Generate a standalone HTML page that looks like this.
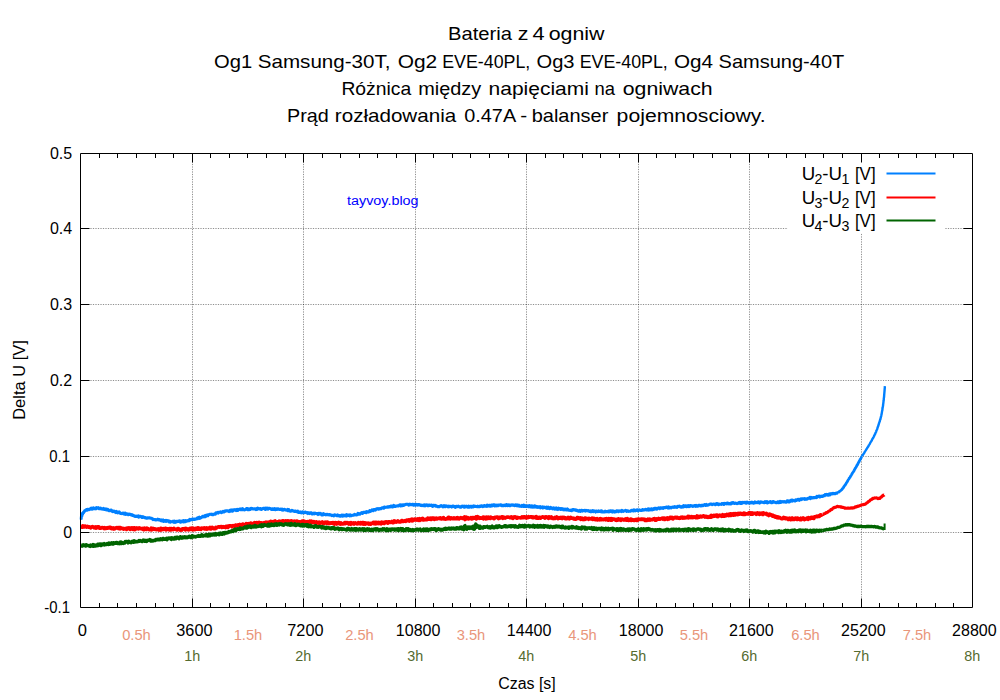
<!DOCTYPE html>
<html lang="pl"><head><meta charset="utf-8"><title>Bateria z 4 ogniw</title>
<style>html,body{margin:0;padding:0;background:#fff}svg{display:block}text{font-family:'Liberation Sans', sans-serif}</style></head><body>
<svg width="1000" height="700" viewBox="0 0 1000 700">
<rect width="1000" height="700" fill="#fff"/>
<g stroke="#000" stroke-width="0.44" stroke-dasharray="1.25 1.25" stroke-dashoffset="0.12" fill="none">
<path d="M192.5 607.5V153.5"/>
<path d="M303.5 607.5V153.5"/>
<path d="M415.5 607.5V153.5"/>
<path d="M526.5 607.5V153.5"/>
<path d="M638.5 607.5V153.5"/>
<path d="M749.5 607.5V153.5"/>
<path d="M861.5 607.5V153.5"/>
<path d="M80.5 228.5H972.5"/>
<path d="M80.5 304.5H972.5"/>
<path d="M80.5 380.5H972.5"/>
<path d="M80.5 456.5H972.5"/>
<path d="M80.5 532.5H972.5"/>
</g>
<rect x="787.5" y="158" width="157.5" height="75.5" fill="#fff"/>
<clipPath id="c"><rect x="79.5" y="153.5" width="893.0" height="454.0"/></clipPath>
<g clip-path="url(#c)" fill="none" stroke-width="2" stroke-linejoin="round" stroke-linecap="butt">
<polyline stroke="#0080ff" stroke-width="3.1" points="81.0,519.6 81.0,519.6 81.1,517.8 81.2,518.4 81.3,516.9 81.5,516.5 81.7,516.5 81.8,515.3 82.0,515.0 82.3,513.7 82.5,514.2 82.9,513.4 83.2,512.6 83.6,512.7 84.1,511.6 84.5,511.4 84.9,510.5 85.4,510.6 85.9,510.0 86.4,509.8 86.9,510.2 87.5,509.3 88.1,509.3 88.7,509.8 89.3,509.6 89.8,509.1 90.4,508.8 91.0,508.3 91.6,508.1 92.2,509.2 92.8,508.5 93.4,507.8 94.0,508.5 94.6,508.7 95.2,508.4 95.8,508.8 96.4,507.6 97.0,508.2 97.6,508.2 98.2,507.6 98.8,508.5 99.4,508.8 100.0,508.5 100.6,508.1 101.2,509.0 101.8,508.7 102.4,508.8 103.0,509.2 103.6,508.4 104.2,509.5 104.7,509.4 105.3,509.6 105.9,508.9 106.5,509.9 107.1,509.2 107.7,509.2 108.3,510.4 108.8,510.6 109.4,510.7 110.0,510.3 110.6,510.2 111.2,510.0 111.7,511.0 112.3,511.3 112.9,511.6 113.5,511.0 114.1,511.0 114.7,511.7 115.2,512.1 115.8,512.5 116.4,511.5 117.0,512.0 117.6,512.8 118.2,512.2 118.8,512.6 119.3,511.9 119.9,513.0 120.5,513.4 121.1,513.4 121.7,513.6 122.3,513.4 122.9,513.0 123.5,513.8 124.0,513.2 124.6,514.2 125.2,513.2 125.8,514.4 126.4,513.6 127.0,514.0 127.6,514.1 128.2,514.7 128.7,514.1 129.3,514.5 129.9,514.1 130.5,514.6 131.1,514.9 131.7,514.6 132.3,515.5 132.9,515.2 133.4,515.8 134.0,515.9 134.6,515.7 135.2,516.4 135.8,516.2 136.4,516.5 137.0,516.0 137.6,516.4 138.2,516.0 138.7,517.2 139.3,516.3 139.9,516.4 140.5,516.2 141.1,516.6 141.7,517.4 142.3,517.4 142.9,516.7 143.5,517.2 144.1,517.3 144.7,517.8 145.3,517.6 145.8,517.8 146.4,518.3 147.0,518.2 147.6,517.8 148.2,518.0 148.8,518.0 149.4,517.8 150.0,518.0 150.6,518.2 151.2,518.3 151.8,518.4 152.4,518.9 153.0,519.6 153.5,519.4 154.1,519.5 154.7,519.6 155.3,519.5 155.9,520.0 156.5,519.8 157.1,519.7 157.7,519.2 158.3,519.8 158.9,519.5 159.5,519.5 160.0,520.1 160.6,520.6 161.2,520.0 161.8,520.8 162.4,520.5 163.0,520.0 163.6,521.3 164.2,520.6 164.8,520.5 165.4,521.3 166.0,520.4 166.6,521.3 167.2,520.7 167.8,521.0 168.4,520.9 169.0,521.8 169.6,521.2 170.2,522.1 170.8,521.6 171.4,521.8 172.0,521.6 172.6,521.3 173.2,521.4 173.8,522.2 174.4,521.2 175.0,522.3 175.6,522.0 176.2,521.4 176.8,521.8 177.4,521.4 178.0,521.4 178.6,521.5 179.2,520.8 179.8,521.5 180.4,522.1 181.0,521.1 181.6,521.8 182.2,521.3 182.8,520.9 183.4,521.9 183.9,520.6 184.5,520.9 185.1,521.8 185.7,520.6 186.3,521.3 186.9,520.9 187.5,521.0 188.1,520.7 188.7,520.2 189.3,520.6 189.9,519.4 190.4,519.9 191.0,519.6 191.6,519.7 192.2,519.0 192.8,519.0 193.4,519.4 194.0,519.0 194.5,519.4 195.1,519.0 195.7,519.2 196.3,518.9 196.9,518.5 197.4,517.9 198.0,518.5 198.6,517.6 199.2,517.2 199.8,518.3 200.3,517.5 200.9,517.7 201.5,517.2 202.1,517.1 202.6,516.2 203.2,516.2 203.8,516.8 204.4,516.5 205.0,515.7 205.5,516.7 206.1,515.4 206.7,515.7 207.3,515.0 207.9,515.7 208.4,514.9 209.0,514.6 209.6,514.3 210.2,514.3 210.8,514.2 211.3,514.5 211.9,514.2 212.5,514.8 213.1,514.7 213.7,514.3 214.2,514.0 214.8,514.1 215.4,514.1 216.0,512.7 216.6,512.7 217.2,512.9 217.8,512.4 218.3,513.0 218.9,512.4 219.5,512.3 220.1,512.2 220.7,511.8 221.3,512.6 221.9,512.3 222.5,512.2 223.1,511.3 223.7,511.7 224.2,512.0 224.8,511.1 225.4,511.3 226.0,510.7 226.6,510.7 227.2,510.8 227.8,511.0 228.4,511.0 229.0,511.5 229.6,510.6 230.2,510.1 230.8,511.1 231.4,510.0 231.9,509.9 232.5,511.1 233.1,510.7 233.7,510.0 234.3,509.7 234.9,510.0 235.5,509.8 236.1,510.5 236.7,509.8 237.3,509.3 237.9,510.4 238.5,509.9 239.1,509.2 239.7,509.1 240.3,509.6 240.9,509.0 241.5,509.7 242.1,509.6 242.7,508.7 243.3,509.8 243.9,509.7 244.5,509.9 245.1,509.5 245.7,509.5 246.3,508.7 246.9,508.5 247.5,508.5 248.1,509.7 248.7,509.2 249.3,509.6 249.9,508.8 250.5,509.3 251.1,508.4 251.7,508.5 252.3,508.6 252.9,509.0 253.5,509.0 254.1,508.9 254.7,508.8 255.3,509.0 255.9,509.5 256.5,508.8 257.1,509.3 257.7,508.2 258.3,508.7 258.9,508.9 259.5,509.0 260.1,508.5 260.7,508.7 261.3,509.4 261.9,509.0 262.5,508.9 263.1,508.2 263.7,508.2 264.3,508.4 264.9,508.3 265.5,509.5 266.1,508.1 266.7,508.7 267.3,508.2 267.9,509.1 268.5,508.3 269.1,508.3 269.7,508.3 270.3,508.6 270.9,509.1 271.5,509.4 272.1,508.7 272.7,508.7 273.3,509.5 273.9,509.4 274.5,508.6 275.1,509.6 275.7,509.6 276.3,508.8 276.9,509.4 277.5,508.8 278.1,508.9 278.7,509.3 279.3,509.4 279.9,509.4 280.5,509.5 281.1,509.1 281.7,509.9 282.3,509.2 282.9,510.2 283.5,509.7 284.0,509.5 284.6,509.3 285.2,509.9 285.8,509.8 286.4,510.2 287.0,510.1 287.6,509.5 288.2,510.7 288.8,509.7 289.4,510.9 290.0,511.0 290.6,511.2 291.2,511.0 291.8,510.3 292.4,510.8 293.0,510.9 293.6,511.3 294.2,511.0 294.7,511.5 295.3,511.0 295.9,511.3 296.5,511.6 297.1,511.5 297.7,511.2 298.3,512.4 298.9,512.1 299.5,512.4 300.1,511.8 300.7,512.7 301.3,512.6 301.9,512.9 302.5,511.9 303.1,512.3 303.7,512.2 304.3,512.6 304.9,512.2 305.5,512.0 306.1,512.6 306.7,512.9 307.3,512.6 307.9,513.5 308.5,512.8 309.1,512.7 309.6,513.5 310.2,513.0 310.8,512.8 311.4,512.9 312.0,513.9 312.6,514.0 313.2,513.6 313.8,513.1 314.4,513.8 315.0,513.1 315.6,513.4 316.2,513.7 316.8,513.6 317.4,513.6 318.0,514.5 318.6,513.4 319.2,514.1 319.8,513.3 320.4,513.5 321.0,513.7 321.6,514.8 322.2,514.5 322.8,514.8 323.4,513.7 324.0,514.6 324.6,514.4 325.2,514.4 325.8,514.9 326.4,514.4 327.0,514.7 327.6,514.4 328.2,514.7 328.8,514.9 329.4,514.5 330.0,514.7 330.6,515.0 331.2,515.1 331.8,515.6 332.4,515.4 333.0,515.4 333.6,515.9 334.2,515.0 334.8,514.9 335.3,515.3 335.9,515.0 336.5,515.6 337.1,515.6 337.7,515.0 338.3,515.9 338.9,515.7 339.5,515.5 340.1,516.2 340.7,516.1 341.3,515.2 341.9,515.1 342.5,516.1 343.1,515.1 343.7,515.9 344.3,515.2 344.9,515.3 345.5,515.5 346.1,516.0 346.7,514.7 347.3,514.9 347.9,515.6 348.5,515.1 349.1,515.0 349.7,515.9 350.3,514.8 350.9,515.4 351.5,515.7 352.1,515.4 352.7,515.2 353.3,515.2 353.9,515.2 354.5,514.3 355.1,514.7 355.7,514.9 356.3,514.9 356.9,514.8 357.5,514.7 358.0,513.4 358.6,513.7 359.2,513.7 359.8,514.2 360.4,513.4 361.0,513.1 361.6,512.6 362.2,512.8 362.7,513.4 363.3,512.2 363.9,512.3 364.5,512.3 365.1,512.5 365.6,512.1 366.2,512.7 366.8,511.6 367.4,511.9 368.0,512.0 368.5,512.1 369.1,511.9 369.7,510.7 370.3,511.4 370.9,511.1 371.5,510.6 372.0,509.9 372.6,510.0 373.2,510.6 373.8,509.6 374.4,509.7 374.9,509.5 375.5,510.0 376.1,509.3 376.7,508.8 377.3,509.0 377.8,508.8 378.4,509.2 379.0,508.5 379.6,508.9 380.2,508.5 380.7,508.8 381.3,508.5 381.9,507.9 382.5,507.9 383.1,507.7 383.7,508.2 384.3,507.0 384.8,507.3 385.4,507.4 386.0,507.2 386.6,507.3 387.2,507.0 387.8,506.8 388.4,507.1 389.0,506.5 389.6,506.8 390.2,506.9 390.8,506.0 391.4,506.1 392.0,506.9 392.6,506.9 393.2,506.8 393.7,505.4 394.3,506.4 394.9,506.5 395.5,506.4 396.1,506.1 396.7,506.0 397.3,506.0 397.9,505.7 398.5,505.9 399.1,505.5 399.7,505.0 400.3,504.8 400.9,505.9 401.5,505.6 402.1,504.8 402.7,505.6 403.3,504.9 403.9,505.3 404.5,504.8 405.1,504.6 405.7,504.5 406.3,504.3 406.9,504.3 407.5,504.2 408.1,504.2 408.7,505.2 409.3,504.8 409.9,504.2 410.5,504.7 411.1,504.7 411.7,504.6 412.3,504.2 412.9,504.5 413.5,505.1 414.1,504.4 414.7,504.6 415.3,505.2 415.9,504.3 416.5,505.0 417.1,504.6 417.7,505.1 418.3,504.5 418.9,504.8 419.5,504.6 420.1,505.3 420.7,505.4 421.3,505.1 421.9,505.6 422.5,505.3 423.1,505.5 423.7,505.6 424.3,504.8 424.9,505.8 425.5,505.0 426.1,505.2 426.7,504.8 427.3,505.7 427.9,505.1 428.5,505.6 429.1,505.0 429.7,505.3 430.3,505.4 430.9,505.2 431.5,505.0 432.1,506.0 432.7,506.3 433.3,505.4 433.9,505.3 434.5,505.7 435.1,505.3 435.7,506.2 436.2,505.8 436.8,506.1 437.4,506.6 438.0,506.6 438.6,506.7 439.2,506.8 439.8,506.3 440.4,506.2 441.0,505.6 441.6,505.7 442.2,506.3 442.8,506.8 443.4,506.2 444.0,505.6 444.6,505.9 445.2,506.7 445.8,505.9 446.4,506.0 447.0,506.1 447.6,506.6 448.2,506.9 448.8,506.1 449.4,506.6 450.0,506.5 450.6,506.4 451.2,506.6 451.8,507.0 452.4,506.1 453.0,506.5 453.6,506.0 454.2,506.6 454.8,507.0 455.4,507.3 456.0,506.5 456.6,506.3 457.2,506.7 457.8,506.4 458.4,506.1 459.0,506.6 459.6,507.0 460.2,507.1 460.8,507.3 461.4,506.4 462.0,506.3 462.6,506.1 463.2,506.5 463.8,507.0 464.4,506.2 465.0,507.1 465.6,506.9 466.2,506.2 466.8,506.8 467.4,507.0 468.0,507.2 468.6,506.1 469.2,507.1 469.8,507.0 470.4,506.2 471.0,506.3 471.6,507.2 472.2,506.4 472.8,506.3 473.4,506.8 474.0,506.0 474.6,506.5 475.2,506.3 475.8,506.5 476.4,506.5 477.0,506.6 477.6,506.2 478.2,506.8 478.8,506.7 479.4,506.8 480.0,506.1 480.6,506.5 481.2,506.0 481.8,505.7 482.4,506.2 483.0,506.6 483.6,506.4 484.2,505.6 484.8,505.5 485.4,506.2 486.0,506.1 486.6,506.3 487.2,505.2 487.8,506.2 488.4,505.6 489.0,505.3 489.6,505.4 490.2,506.3 490.8,506.2 491.4,505.0 492.0,505.3 492.6,505.8 493.2,504.8 493.8,504.8 494.4,504.8 495.0,505.9 495.6,505.2 496.2,505.1 496.8,505.8 497.4,505.1 498.0,505.7 498.6,505.1 499.2,505.0 499.8,505.1 500.4,504.8 501.0,504.7 501.6,505.8 502.2,505.7 502.8,505.2 503.4,505.5 504.0,505.7 504.6,505.1 505.2,505.5 505.8,505.6 506.4,504.6 507.0,504.7 507.6,505.6 508.2,505.5 508.8,504.8 509.4,505.7 510.0,505.7 510.6,505.0 511.2,505.1 511.8,504.8 512.4,505.2 513.0,504.8 513.6,505.4 514.2,505.6 514.8,505.5 515.4,504.8 516.0,505.6 516.6,505.8 517.2,505.0 517.8,505.7 518.4,506.0 519.0,505.2 519.6,506.2 520.2,506.3 520.8,506.0 521.4,506.3 522.0,505.5 522.6,506.0 523.2,506.4 523.8,505.2 524.4,506.4 525.0,505.6 525.6,506.4 526.2,506.2 526.8,506.5 527.4,505.9 528.0,506.0 528.6,506.7 529.2,505.6 529.8,505.7 530.4,506.9 531.0,506.9 531.6,505.9 532.2,507.1 532.8,506.1 533.4,507.0 534.0,507.1 534.6,505.9 535.2,506.0 535.8,506.4 536.4,507.3 537.0,507.2 537.6,506.7 538.2,507.4 538.8,506.7 539.4,506.8 540.0,506.6 540.5,507.8 541.1,507.6 541.7,507.2 542.3,506.9 542.9,508.0 543.5,507.2 544.1,507.0 544.7,507.4 545.3,507.8 545.9,508.0 546.5,507.1 547.1,508.3 547.7,508.0 548.3,507.2 548.9,508.3 549.5,508.6 550.1,508.5 550.7,507.4 551.3,508.1 551.9,508.3 552.5,508.8 553.1,508.3 553.7,507.8 554.3,509.0 554.9,509.1 555.5,508.5 556.1,508.0 556.7,509.2 557.3,509.1 557.9,509.5 558.5,508.2 559.1,508.9 559.7,508.7 560.3,508.5 560.8,509.5 561.4,509.0 562.0,508.6 562.6,508.8 563.2,509.8 563.8,509.6 564.4,509.1 565.0,509.8 565.6,509.1 566.2,509.9 566.8,509.9 567.4,509.0 568.0,509.8 568.6,510.1 569.2,510.2 569.8,510.2 570.4,510.5 571.0,510.4 571.6,510.7 572.2,510.0 572.8,509.5 573.4,509.8 574.0,510.0 574.6,509.7 575.2,509.8 575.8,510.4 576.4,510.1 577.0,510.2 577.6,510.9 578.2,511.1 578.8,511.2 579.4,510.5 580.0,511.0 580.6,511.3 581.2,510.3 581.8,510.4 582.4,511.1 583.0,510.6 583.6,510.5 584.2,510.8 584.8,510.3 585.4,511.0 586.0,510.4 586.6,510.7 587.2,510.7 587.8,510.9 588.4,510.6 589.0,511.1 589.6,511.5 590.2,511.0 590.8,511.8 591.4,511.7 592.0,511.0 592.6,510.6 593.2,511.6 593.8,510.9 594.4,511.0 595.0,511.4 595.6,512.0 596.2,511.0 596.8,511.3 597.4,511.5 598.0,511.6 598.6,510.9 599.2,511.5 599.8,511.4 600.4,511.6 601.0,510.8 601.6,510.8 602.2,512.0 602.8,511.8 603.4,511.8 604.0,512.0 604.6,512.0 605.2,511.2 605.8,511.7 606.4,511.6 607.0,511.5 607.6,511.6 608.2,511.1 608.8,511.9 609.4,511.3 610.0,510.9 610.6,510.7 611.2,511.6 611.8,511.0 612.4,512.0 613.0,510.9 613.6,511.1 614.2,512.0 614.8,511.4 615.4,511.9 616.0,511.7 616.6,510.7 617.2,510.8 617.8,511.1 618.4,511.7 619.0,510.9 619.6,511.1 620.2,511.1 620.8,510.8 621.4,511.5 622.0,510.4 622.6,510.6 623.2,511.4 623.8,511.1 624.4,510.9 625.0,510.7 625.6,510.3 626.2,510.7 626.8,511.4 627.4,510.9 628.0,510.8 628.6,511.4 629.2,511.2 629.8,511.3 630.4,511.2 631.0,510.8 631.6,510.3 632.2,510.7 632.8,510.3 633.4,510.9 634.0,509.9 634.6,510.3 635.2,510.8 635.8,510.3 636.4,510.4 637.0,509.7 637.6,509.9 638.1,510.8 638.7,510.4 639.3,509.9 639.9,510.1 640.5,510.4 641.1,510.4 641.7,510.4 642.3,509.7 642.9,509.5 643.5,510.1 644.1,509.9 644.7,509.9 645.3,509.4 645.9,509.5 646.5,510.0 647.1,509.4 647.7,509.9 648.3,508.9 648.9,510.1 649.5,509.0 650.1,509.4 650.7,509.9 651.3,508.9 651.9,508.8 652.5,509.8 653.1,509.6 653.7,509.0 654.3,508.3 654.9,509.0 655.5,508.4 656.1,508.3 656.7,509.2 657.3,508.7 657.9,508.4 658.5,507.8 659.1,508.1 659.7,508.7 660.2,507.9 660.8,507.9 661.4,508.2 662.0,507.7 662.6,508.0 663.2,508.3 663.8,507.5 664.4,507.8 665.0,507.8 665.6,507.5 666.2,507.2 666.8,507.0 667.4,507.6 668.0,508.1 668.6,506.8 669.2,507.9 669.8,508.0 670.4,507.4 671.0,507.9 671.6,507.5 672.2,507.2 672.8,507.1 673.4,507.0 674.0,507.3 674.6,506.6 675.2,507.2 675.8,506.9 676.4,507.1 677.0,507.4 677.6,506.4 678.2,506.6 678.8,506.4 679.4,506.0 680.0,506.8 680.6,506.7 681.2,507.2 681.8,506.6 682.4,506.3 683.0,507.0 683.6,505.7 684.2,506.1 684.8,506.6 685.4,505.8 686.0,506.0 686.6,506.7 687.2,505.9 687.8,505.8 688.4,506.6 689.0,505.5 689.6,506.5 690.2,505.7 690.8,505.5 691.4,505.9 692.0,505.9 692.6,506.5 693.2,506.2 693.8,505.7 694.4,505.8 695.0,505.5 695.6,506.3 696.2,505.5 696.8,506.1 697.4,505.8 698.0,506.1 698.6,505.3 699.2,505.3 699.7,505.2 700.3,505.8 700.9,506.0 701.5,505.8 702.1,505.2 702.7,505.7 703.3,505.5 703.9,505.2 704.5,504.6 705.1,504.7 705.7,505.3 706.3,504.5 706.9,505.0 707.5,505.3 708.1,505.1 708.7,504.9 709.3,504.4 709.9,504.2 710.5,504.0 711.1,504.0 711.7,504.2 712.3,504.6 712.9,504.4 713.5,504.0 714.1,504.1 714.7,504.3 715.3,504.7 715.9,504.5 716.5,503.6 717.1,504.2 717.7,503.7 718.3,504.6 718.9,504.6 719.5,504.1 720.1,504.3 720.7,504.2 721.3,504.4 721.9,503.6 722.5,503.5 723.1,504.1 723.7,504.4 724.3,503.3 724.9,503.8 725.5,503.7 726.1,503.4 726.7,503.9 727.3,503.0 727.9,503.3 728.5,503.3 729.1,504.0 729.7,503.6 730.3,503.6 730.9,504.0 731.5,502.8 732.1,503.3 732.7,502.6 733.3,502.6 733.9,503.3 734.5,503.5 735.1,503.2 735.7,503.1 736.3,503.4 736.9,503.6 737.5,503.5 738.1,503.3 738.7,502.7 739.3,503.2 739.9,502.4 740.5,503.4 741.1,502.5 741.7,503.4 742.3,502.5 742.9,502.4 743.5,502.5 744.1,502.7 744.7,502.3 745.3,502.3 745.9,503.2 746.5,503.2 747.1,502.1 747.7,502.5 748.3,502.5 748.9,503.1 749.5,502.8 750.1,502.4 750.7,503.0 751.3,502.7 751.9,502.1 752.5,502.9 753.1,502.5 753.7,503.1 754.3,502.7 754.9,502.0 755.5,502.8 756.1,502.6 756.7,502.5 757.3,502.3 757.9,502.7 758.5,501.8 759.1,502.4 759.7,503.0 760.3,502.0 760.9,501.9 761.5,502.2 762.1,502.4 762.7,502.2 763.3,502.3 763.9,502.6 764.5,502.7 765.1,501.7 765.7,502.1 766.3,502.5 766.9,501.6 767.5,502.9 768.1,502.5 768.7,502.2 769.3,502.2 769.9,501.7 770.5,501.6 771.1,502.5 771.7,502.8 772.3,502.6 772.9,501.5 773.5,501.5 774.1,502.2 774.7,502.3 775.3,502.3 775.9,502.6 776.5,502.7 777.1,502.8 777.7,501.8 778.3,502.0 778.9,502.7 779.5,502.3 780.1,501.4 780.7,502.5 781.3,502.1 781.8,501.5 782.4,501.7 783.0,501.9 783.6,502.0 784.2,501.6 784.8,502.0 785.4,501.7 786.0,502.2 786.6,502.0 787.2,500.9 787.8,500.8 788.4,501.8 789.0,501.3 789.6,501.8 790.2,500.9 790.8,500.5 791.4,500.2 792.0,501.2 792.6,500.1 793.2,500.8 793.8,500.6 794.4,500.8 795.0,501.0 795.6,499.9 796.2,500.1 796.7,500.4 797.3,499.6 797.9,499.3 798.5,499.3 799.1,500.3 799.7,500.0 800.3,499.1 800.9,498.8 801.5,499.6 802.1,499.0 802.7,498.8 803.3,498.7 803.9,499.0 804.5,498.7 805.1,499.4 805.6,498.8 806.2,499.2 806.8,499.1 807.4,499.0 808.0,498.3 808.6,498.3 809.2,498.2 809.8,497.4 810.4,498.6 811.0,497.4 811.6,497.8 812.2,497.9 812.8,498.0 813.4,497.6 814.0,497.6 814.5,497.8 815.1,497.5 815.7,497.4 816.3,497.6 816.9,496.4 817.5,497.0 818.1,496.2 818.7,496.3 819.3,496.0 819.9,497.0 820.5,496.2 821.0,496.3 821.6,496.5 822.2,496.2 822.8,496.4 823.4,495.6 823.9,495.7 824.5,495.8 825.1,494.6 825.7,495.0 826.3,494.4 826.9,494.9 827.5,494.5 828.1,495.2 828.7,494.5 829.3,494.0 829.8,494.9 830.4,494.2 831.0,493.6 831.6,493.9 832.3,494.0 832.9,493.4 833.5,493.5 834.0,493.7 834.6,493.6 835.2,493.7 835.8,493.3 836.3,493.1 836.9,493.1 837.5,492.7 838.0,492.7"/><polyline stroke="#0080ff" stroke-width="2.8" points="838.0,492.7 838.5,492.4 839.0,491.8 839.5,491.5 840.0,491.1 840.4,490.8 840.8,490.4 841.3,490.1 841.7,489.7 842.1,489.3 842.5,488.7 842.9,488.2 843.2,487.9 843.6,487.3 843.9,486.7 844.3,486.2 844.6,485.6 844.9,485.5 845.3,484.9 845.6,484.2 845.9,483.9 846.2,483.3 846.5,482.7 846.9,482.4 847.2,481.9 847.5,481.2 847.8,480.7 848.1,480.0 848.5,479.5 848.8,479.1 849.1,478.5 849.4,477.9 849.7,477.7 850.0,477.3 850.3,476.7 850.6,476.2 851.0,475.7 851.3,475.1 851.6,474.6 851.9,474.0 852.2,473.5 852.5,472.9 852.9,472.4 853.2,472.0 853.5,471.6 853.8,471.0 854.1,470.6 854.4,469.9 854.7,469.2 855.0,468.8 855.3,468.3 855.6,467.9 855.9,467.3 856.2,466.9 856.5,466.2 856.8,465.8 857.1,465.0 857.4,464.8 857.7,464.4 857.9,463.8 858.2,463.3 858.5,462.5 858.8,462.3 859.1,461.6 859.4,460.9 859.7,460.3 859.9,459.8 860.2,459.5 860.5,459.0 860.8,458.5 861.1,457.9 861.4,457.4 861.7,456.7 862.0,456.4"/><polyline stroke="#0080ff" stroke-width="2.4" points="862.0,456.4 862.3,455.6 862.7,455.4 863.0,454.7 863.3,454.1 863.6,454.0 863.9,453.5 864.3,452.9 864.6,452.2 864.9,451.7 865.2,451.2 865.6,450.6 865.9,450.1 866.2,449.5 866.5,449.4 866.8,448.6 867.1,448.2 867.4,447.6 867.8,447.2 868.1,446.7 868.4,446.3 868.7,445.4 869.0,445.0 869.3,444.6 869.6,444.1 869.9,443.7 870.2,442.9 870.5,442.5 870.8,442.0 871.1,441.5 871.5,440.9 871.8,440.5 872.0,439.8 872.3,439.2 872.6,438.8 872.9,438.2 873.2,437.8 873.5,437.3 873.8,436.6 874.0,436.2 874.3,435.7 874.5,435.2 874.8,434.4 875.0,434.2 875.3,433.6 875.5,432.9 875.7,432.4 876.0,432.0 876.2,431.4 876.4,430.6 876.6,430.3 876.9,429.6 877.1,429.2 877.3,428.7 877.5,427.9 877.7,427.3 877.9,426.8 878.1,426.4 878.3,425.5 878.5,425.1 878.7,424.6 878.8,424.0 879.0,423.2 879.2,422.9 879.4,422.2 879.6,421.6 879.8,421.3 879.9,420.4 880.1,420.0 880.3,419.2 880.5,419.0 880.6,418.2 880.8,417.6 880.9,416.9 881.1,416.5 881.2,416.0 881.3,415.1 881.5,414.8 881.6,414.0 881.7,413.4 881.8,413.1 881.9,412.2 882.0,411.9 882.1,411.0 882.2,410.6 882.4,410.1 882.4,409.3 882.5,408.9 882.6,408.1 882.7,407.6 882.8,406.9 882.9,406.6 883.0,405.7 883.1,405.2 883.1,404.5 883.2,404.2 883.3,403.3 883.4,402.8 883.4,402.3 883.5,401.6 883.6,401.1 883.7,400.4 883.7,400.1 883.8,399.2 883.8,398.5 883.9,397.9 884.0,397.5 884.0,396.9 884.1,396.4 884.1,395.9 884.2,395.1 884.2,394.7 884.3,393.9 884.3,393.3 884.4,392.6 884.4,392.3 884.5,391.5 884.5,391.0 884.6,390.3 884.6,389.9 884.7,389.0 884.7,388.6 884.8,388.1 884.8,387.2 884.8,386.9 884.9,386.2"/>
<polyline stroke="#ff0000" stroke-width="3.6" points="81.0,526.2 81.6,526.3 82.2,527.2 82.8,525.9 83.4,526.9 84.0,527.1 84.6,526.2 85.2,526.0 85.8,526.4 86.4,527.1 87.0,527.0 87.6,526.3 88.2,526.8 88.8,527.2 89.4,526.8 90.0,527.2 90.6,527.9 91.2,527.4 91.8,526.9 92.4,526.6 93.0,526.9 93.6,527.2 94.2,527.9 94.8,527.7 95.4,526.9 96.0,528.1 96.6,527.3 97.2,527.7 97.8,526.7 98.4,526.7 99.0,526.9 99.6,528.2 100.2,527.9 100.8,528.2 101.4,527.9 102.0,527.5 102.6,527.7 103.2,527.9 103.8,528.4 104.4,527.6 105.0,528.5 105.6,528.0 106.2,528.4 106.8,527.9 107.4,528.2 108.0,527.6 108.6,528.0 109.2,527.5 109.8,527.3 110.4,527.2 111.0,528.4 111.6,528.0 112.2,528.8 112.8,528.7 113.4,527.9 114.0,529.0 114.6,528.3 115.2,528.7 115.8,528.0 116.4,527.7 117.0,527.6 117.6,527.7 118.2,528.5 118.8,527.6 119.4,527.5 120.0,528.9 120.6,527.6 121.2,528.3 121.8,528.4 122.4,528.6 123.0,528.4 123.6,529.2 124.2,528.9 124.8,528.6 125.4,528.7 126.0,528.5 126.6,529.4 127.2,528.0 127.8,528.9 128.4,528.7 129.0,527.8 129.6,528.2 130.2,529.4 130.8,529.1 131.4,527.8 132.0,528.3 132.6,527.8 133.2,529.3 133.8,528.0 134.4,527.9 135.0,529.6 135.6,528.6 136.2,528.4 136.8,527.9 137.4,528.6 138.0,528.5 138.6,528.8 139.2,527.9 139.8,528.2 140.4,528.3 141.0,528.7 141.6,528.5 142.2,529.1 142.8,528.5 143.4,529.6 144.0,529.7 144.6,528.1 145.2,528.4 145.8,529.0 146.4,529.4 147.0,528.2 147.6,528.4 148.2,528.9 148.8,529.3 149.4,529.7 150.0,529.7 150.6,529.5 151.2,528.2 151.8,529.9 152.4,529.2 153.0,528.3 153.6,528.6 154.2,529.3 154.8,528.9 155.4,529.0 156.0,529.6 156.6,529.7 157.2,529.2 157.8,529.6 158.4,528.9 159.0,530.0 159.6,529.3 160.2,530.0 160.8,528.3 161.4,529.8 162.0,529.3 162.6,529.5 163.2,528.6 163.8,529.3 164.4,528.8 165.0,528.5 165.6,528.3 166.2,529.9 166.8,529.5 167.4,528.7 168.0,528.8 168.6,529.1 169.2,529.8 169.8,528.5 170.4,530.0 171.0,530.0 171.6,528.7 172.2,529.5 172.8,528.9 173.4,529.5 174.0,528.4 174.6,529.1 175.2,529.3 175.8,529.4 176.4,529.5 177.0,529.9 177.6,528.7 178.2,528.5 178.8,529.0 179.4,529.3 180.0,530.0 180.6,529.5 181.2,529.6 181.8,530.0 182.4,528.7 183.0,528.7 183.6,529.0 184.2,528.7 184.8,529.4 185.4,529.9 186.0,528.4 186.6,529.1 187.2,529.4 187.8,529.0 188.4,529.8 189.0,529.4 189.6,529.7 190.2,528.3 190.8,528.4 191.4,528.2 192.0,529.6 192.6,529.8 193.2,528.1 193.7,529.4 194.3,529.3 194.9,529.6 195.5,528.5 196.1,529.2 196.7,528.4 197.3,528.0 197.9,529.2 198.5,527.9 199.1,529.1 199.7,528.3 200.3,528.7 200.9,529.4 201.5,528.2 202.1,528.5 202.7,528.3 203.3,528.0 203.9,528.5 204.5,527.9 205.1,529.0 205.7,528.6 206.3,528.0 206.9,529.2 207.5,528.1 208.1,528.6 208.7,528.7 209.3,527.8 209.9,527.3 210.5,528.9 211.1,529.0 211.7,527.5 212.3,527.4 212.9,527.9 213.5,528.1 214.1,528.8 214.7,528.7 215.3,528.7 215.9,527.3 216.5,527.9 217.1,527.6 217.7,527.1 218.3,526.8 218.9,526.9 219.5,527.2 220.1,526.7 220.7,526.7 221.3,526.5 221.9,527.5 222.5,527.2 223.1,526.7 223.7,527.1 224.3,526.9 224.9,527.2 225.5,527.6 226.1,526.5 226.7,527.0 227.3,526.2 227.9,527.4 228.5,526.8 229.1,525.9 229.7,526.0 230.3,525.8 230.8,525.7 231.4,525.9 232.0,526.8 232.6,526.0 233.2,525.6 233.8,525.8 234.4,525.5 235.0,526.3 235.6,525.0 236.2,525.3 236.8,525.3 237.4,525.0 238.0,525.9 238.6,524.8 239.2,525.0 239.8,524.4 240.4,525.6 241.0,524.8 241.6,525.3 242.2,524.4 242.8,524.0 243.4,524.5 244.0,525.2 244.5,525.2 245.1,524.3 245.7,525.1 246.3,523.6 246.9,524.4 247.5,523.8 248.1,524.1 248.7,523.6 249.3,524.8 249.9,523.7 250.5,524.7 251.1,523.2 251.7,523.7 252.3,523.7 252.9,524.1 253.5,523.3 254.1,523.6 254.7,522.7 255.3,523.1 255.9,523.8 256.5,522.6 257.1,523.2 257.7,522.7 258.3,522.6 258.9,522.4 259.5,523.6 260.1,523.3 260.7,522.7 261.3,522.7 261.9,523.2 262.5,523.0 263.0,523.5 263.6,523.4 264.2,522.6 264.8,522.8 265.4,522.6 266.0,522.1 266.6,522.3 267.2,522.7 267.8,522.4 268.4,522.5 269.0,522.1 269.6,522.9 270.2,522.6 270.8,521.4 271.4,522.5 272.0,522.7 272.6,522.5 273.2,521.6 273.8,521.6 274.4,521.3 275.0,520.9 275.6,521.7 276.2,522.3 276.8,522.1 277.4,521.9 278.0,522.2 278.6,521.9 279.2,521.1 279.8,522.1 280.4,521.4 281.0,522.3 281.6,521.3 282.2,520.9 282.8,522.0 283.4,520.9 284.0,522.3 284.6,521.4 285.2,522.1 285.8,520.8 286.4,521.7 287.0,521.9 287.6,520.9 288.2,521.8 288.8,521.0 289.4,521.2 290.0,521.4 290.6,521.8 291.2,520.9 291.8,521.0 292.4,522.1 293.0,522.0 293.6,521.5 294.2,521.2 294.8,521.9 295.4,521.5 296.0,521.3 296.6,522.3 297.2,521.1 297.8,522.1 298.4,521.8 299.0,521.9 299.6,521.9 300.2,522.0 300.8,522.3 301.4,522.4 302.0,521.2 302.6,521.0 303.2,522.4 303.8,521.1 304.4,521.2 305.0,522.3 305.6,522.6 306.2,522.4 306.8,521.8 307.4,521.6 308.0,522.7 308.6,522.3 309.2,522.2 309.8,521.1 310.4,521.5 311.0,521.2 311.6,522.8 312.2,521.7 312.8,521.6 313.4,522.4 314.0,521.7 314.6,522.4 315.2,523.1 315.8,523.0 316.4,521.9 317.0,523.2 317.6,522.3 318.2,522.6 318.8,522.2 319.4,523.5 320.0,522.3 320.6,523.1 321.2,522.9 321.8,523.0 322.4,522.0 323.0,522.8 323.6,523.7 324.2,522.9 324.8,522.3 325.4,522.1 326.0,522.6 326.6,523.4 327.2,522.1 327.8,522.2 328.4,523.3 329.0,523.7 329.6,523.0 330.2,523.3 330.8,522.7 331.4,522.8 332.0,523.2 332.6,522.7 333.2,523.2 333.8,522.6 334.4,524.1 335.0,523.6 335.6,522.6 336.2,522.8 336.8,524.0 337.4,523.1 338.0,523.0 338.6,522.5 339.2,523.7 339.8,523.5 340.4,524.0 341.0,522.8 341.6,523.9 342.2,524.0 342.8,524.0 343.4,523.8 344.0,523.3 344.6,522.6 345.2,523.7 345.8,522.5 346.4,522.7 347.0,523.2 347.6,522.7 348.2,523.3 348.8,524.0 349.4,522.8 350.0,523.9 350.6,524.3 351.2,522.6 351.8,523.3 352.4,523.8 353.0,523.8 353.6,523.0 354.2,524.0 354.8,523.2 355.4,522.9 356.0,523.4 356.6,523.6 357.2,524.0 357.8,523.7 358.4,522.6 359.0,523.5 359.6,523.1 360.2,523.8 360.8,522.6 361.4,523.7 362.0,523.9 362.6,522.6 363.2,522.5 363.8,524.1 364.4,524.1 365.0,522.8 365.6,524.1 366.2,523.2 366.8,523.4 367.4,523.3 368.0,523.0 368.6,524.0 369.2,523.5 369.8,524.1 370.4,523.5 371.0,524.0 371.6,523.3 372.2,523.2 372.8,523.3 373.4,522.3 374.0,523.7 374.6,522.5 375.2,523.9 375.8,522.3 376.4,523.5 377.0,523.6 377.6,523.2 378.2,522.3 378.8,523.6 379.4,522.7 380.0,522.6 380.6,523.3 381.2,523.8 381.8,522.2 382.4,522.8 383.0,523.2 383.6,522.4 384.2,523.5 384.8,522.9 385.4,521.9 385.9,522.0 386.5,521.9 387.1,522.4 387.7,523.2 388.3,521.7 388.9,521.7 389.5,521.8 390.1,522.4 390.7,522.0 391.3,522.0 391.9,521.4 392.5,522.6 393.1,521.9 393.7,522.5 394.3,520.9 394.9,521.6 395.5,521.4 396.1,522.2 396.7,521.9 397.3,521.5 397.9,520.8 398.5,521.7 399.1,522.0 399.7,521.7 400.3,522.0 400.9,521.3 401.5,520.7 402.1,520.5 402.7,521.5 403.3,521.5 403.9,521.1 404.5,521.3 405.1,520.7 405.7,521.3 406.3,521.0 406.9,520.1 407.5,520.6 408.1,520.7 408.6,519.8 409.2,521.1 409.8,520.8 410.4,519.6 411.0,519.6 411.6,519.2 412.2,520.8 412.8,519.4 413.4,520.5 414.0,519.9 414.6,519.0 415.2,519.2 415.8,519.3 416.4,520.1 417.0,519.4 417.6,518.9 418.2,520.3 418.8,519.5 419.4,518.7 420.0,520.3 420.6,519.7 421.2,519.2 421.8,518.6 422.4,519.6 423.0,518.5 423.6,520.0 424.2,519.6 424.8,519.5 425.4,519.6 426.0,519.7 426.6,518.9 427.2,519.5 427.8,518.2 428.4,519.3 429.0,519.3 429.6,518.3 430.2,518.1 430.8,519.5 431.4,519.4 432.0,518.0 432.6,518.8 433.2,518.1 433.8,518.1 434.4,519.4 435.0,518.9 435.6,519.0 436.2,518.1 436.8,519.0 437.4,518.8 438.0,518.2 438.6,518.4 439.2,518.0 439.8,518.6 440.4,517.8 441.0,518.3 441.6,519.0 442.2,518.6 442.8,518.5 443.4,517.6 444.0,518.9 444.6,518.5 445.2,519.1 445.8,519.0 446.4,519.0 447.0,518.3 447.6,518.7 448.2,517.5 448.8,517.3 449.4,518.7 450.0,518.4 450.6,518.9 451.2,517.8 451.8,518.1 452.4,518.6 453.0,518.3 453.6,518.7 454.2,517.9 454.8,518.7 455.4,518.7 456.0,518.7 456.6,517.8 457.2,518.7 457.8,517.7 458.4,518.2 459.0,518.9 459.6,518.3 460.2,518.2 460.8,517.7 461.4,518.0 462.0,518.0 462.6,518.5 463.2,518.2 463.8,517.4 464.4,517.0 465.0,519.6 465.6,518.4 466.2,517.2 466.8,517.8 467.4,518.5 468.0,517.7 468.6,518.9 469.2,518.3 469.8,518.5 470.4,518.5 471.0,517.6 471.6,519.0 472.2,518.8 472.8,517.5 473.4,518.4 474.0,518.3 474.6,517.5 475.2,517.6 475.8,517.0 476.4,519.0 477.0,517.8 477.6,516.7 478.2,517.3 478.8,517.2 479.4,518.3 480.0,518.1 480.6,517.8 481.2,518.1 481.8,518.2 482.4,517.5 483.0,517.2 483.6,518.8 484.2,517.4 484.8,517.4 485.4,518.3 486.0,518.8 486.6,517.2 487.2,517.7 487.8,518.5 488.4,517.1 489.0,517.4 489.6,518.0 490.2,518.4 490.8,517.1 491.4,517.6 492.0,517.9 492.6,517.9 493.2,517.8 493.8,518.6 494.4,518.6 495.0,517.2 495.6,517.3 496.2,517.5 496.8,517.0 497.4,517.1 498.0,517.8 498.6,518.6 499.2,517.3 499.8,517.2 500.4,517.9 501.0,517.3 501.6,516.8 502.2,516.9 502.8,518.3 503.4,517.0 504.0,517.9 504.6,517.5 505.2,518.1 505.8,517.7 506.4,517.2 507.0,517.1 507.6,517.1 508.2,517.1 508.8,517.2 509.4,517.2 510.0,517.8 510.6,517.6 511.2,516.8 511.8,517.4 512.4,518.3 513.0,518.4 513.6,517.2 514.2,516.9 514.8,517.2 515.4,516.9 516.0,517.1 516.6,518.3 517.2,518.2 517.8,517.4 518.4,517.6 519.0,517.8 519.6,517.8 520.2,517.8 520.8,517.9 521.4,517.6 522.0,516.8 522.6,517.8 523.2,517.7 523.8,516.8 524.4,516.9 525.0,517.7 525.6,517.2 526.2,518.0 526.8,517.0 527.4,517.7 528.0,517.6 528.6,516.7 529.2,517.0 529.8,517.1 530.4,517.0 531.0,516.7 531.6,516.9 532.2,517.5 532.8,516.9 533.4,517.7 534.0,517.3 534.6,517.3 535.2,516.9 535.8,517.9 536.4,516.7 537.0,518.2 537.6,517.6 538.2,518.2 538.8,517.5 539.4,517.2 540.0,517.2 540.6,518.2 541.2,517.5 541.8,517.3 542.4,516.9 543.0,516.9 543.6,517.4 544.2,517.4 544.8,518.1 545.4,516.9 546.0,517.5 546.6,516.9 547.2,517.1 547.8,517.6 548.4,518.3 549.0,516.9 549.6,517.0 550.2,518.0 550.8,517.7 551.4,516.9 552.0,518.0 552.6,518.5 553.2,518.1 553.8,518.6 554.4,518.1 555.0,517.4 555.6,518.3 556.2,517.9 556.8,517.0 557.4,517.5 558.0,518.6 558.6,518.1 559.2,517.6 559.8,518.2 560.4,518.2 561.0,517.3 561.6,517.8 562.2,518.5 562.8,517.3 563.4,518.1 564.0,517.3 564.6,517.6 565.2,518.5 565.8,517.8 566.4,518.7 567.0,518.5 567.6,518.4 568.2,517.5 568.8,518.1 569.4,518.9 570.0,518.4 570.6,517.4 571.2,518.2 571.8,518.2 572.4,518.2 573.0,518.1 573.6,518.9 574.2,518.4 574.8,519.0 575.4,519.2 576.0,519.1 576.6,518.9 577.2,517.6 577.8,517.5 578.4,517.9 579.0,518.5 579.6,518.1 580.2,517.8 580.8,519.3 581.4,518.4 582.0,518.0 582.6,518.6 583.2,519.5 583.8,519.0 584.4,519.4 585.0,518.0 585.6,519.1 586.2,518.4 586.8,518.5 587.4,518.6 588.0,518.7 588.6,519.3 589.1,518.4 589.7,518.7 590.3,518.7 590.9,519.0 591.5,519.0 592.1,518.1 592.7,519.5 593.3,519.2 593.9,518.3 594.5,518.9 595.1,519.7 595.7,519.7 596.3,518.8 596.9,518.6 597.5,519.9 598.1,519.5 598.7,519.4 599.3,519.0 599.9,519.8 600.5,518.6 601.1,519.8 601.7,519.7 602.3,519.3 602.9,519.0 603.5,519.6 604.1,519.1 604.7,519.1 605.3,518.9 605.9,519.8 606.5,518.7 607.1,519.3 607.7,519.3 608.3,520.2 608.9,518.7 609.5,519.5 610.1,518.9 610.7,520.2 611.3,518.7 611.9,520.2 612.5,519.7 613.1,518.9 613.7,519.3 614.3,519.1 614.9,519.4 615.5,520.1 616.1,519.5 616.7,520.4 617.3,520.2 617.9,519.0 618.5,518.9 619.1,519.9 619.7,519.3 620.3,519.1 620.9,520.3 621.5,519.7 622.1,519.1 622.7,519.7 623.3,519.7 623.9,520.1 624.5,519.4 625.1,519.6 625.7,519.0 626.3,520.2 626.9,520.3 627.5,518.7 628.1,520.1 628.7,520.5 629.3,520.2 629.9,520.1 630.5,519.1 631.1,520.5 631.7,519.4 632.3,520.2 632.9,520.1 633.5,519.8 634.1,520.4 634.7,520.4 635.3,519.5 635.9,519.6 636.5,520.3 637.1,519.5 637.7,520.3 638.3,519.1 638.9,519.2 639.5,519.4 640.1,519.3 640.7,519.5 641.3,519.1 641.9,519.0 642.5,519.4 643.1,519.0 643.7,519.3 644.3,519.4 644.9,520.4 645.5,519.5 646.1,519.8 646.7,520.4 647.3,519.5 647.9,519.2 648.5,519.7 649.1,520.2 649.7,519.2 650.3,520.0 650.9,519.6 651.5,519.6 652.1,519.8 652.7,519.5 653.3,518.9 653.9,519.0 654.5,518.6 655.1,520.1 655.7,519.6 656.3,520.1 656.9,518.9 657.5,519.3 658.1,519.3 658.7,518.4 659.3,519.1 659.9,519.2 660.5,518.8 661.1,518.7 661.7,518.4 662.3,518.1 662.9,519.0 663.5,518.2 664.1,518.0 664.7,519.5 665.3,519.3 665.9,518.3 666.5,518.5 667.1,518.0 667.7,519.3 668.3,518.0 668.9,519.0 669.5,518.8 670.1,517.4 670.7,517.4 671.3,518.1 671.9,517.3 672.5,518.8 673.1,518.9 673.7,518.2 674.3,517.6 674.9,517.4 675.5,517.2 676.1,518.0 676.7,517.2 677.3,517.2 677.9,518.1 678.5,518.3 679.1,517.9 679.7,518.4 680.3,518.2 680.9,517.4 681.5,517.3 682.1,517.0 682.7,518.0 683.3,517.5 683.9,518.1 684.5,517.4 685.1,518.0 685.7,517.7 686.3,517.4 686.9,517.7 687.5,517.7 688.1,516.4 688.7,517.8 689.3,516.5 689.9,517.3 690.5,517.1 691.1,517.6 691.7,516.6 692.3,517.5 692.9,517.6 693.5,516.8 694.1,517.2 694.7,516.9 695.3,517.5 695.9,517.7 696.5,517.0 697.1,516.0 697.7,517.7 698.3,517.0 698.9,516.3 699.5,517.2 700.1,516.7 700.7,516.2 701.3,516.5 701.9,516.9 702.5,516.4 703.1,516.0 703.7,515.8 704.3,516.4 704.9,517.0 705.5,516.3 706.1,516.4 706.7,517.1 707.3,516.7 707.9,517.3 708.5,517.0 709.0,517.2 709.6,516.4 710.2,516.8 710.8,517.2 711.4,515.4 712.0,516.2 712.6,516.7 713.2,515.7 713.8,515.4 714.4,516.1 715.0,515.3 715.6,515.5 716.2,515.2 716.8,516.4 717.4,515.2 718.0,516.7 718.6,516.0 719.2,515.7 719.8,515.2 720.4,515.6 721.0,515.3 721.6,516.3 722.2,515.6 722.8,514.7 723.4,516.3 724.0,516.3 724.6,516.3 725.2,514.9 725.8,515.3 726.4,515.6 727.0,514.4 727.6,514.9 728.2,514.7 728.8,515.6 729.4,514.0 730.0,515.5 730.6,513.8 731.2,515.4 731.8,514.5 732.4,513.9 733.0,514.1 733.6,515.1 734.2,513.7 734.8,514.8 735.3,514.9 735.9,513.7 736.5,514.2 737.1,514.0 737.7,514.7 738.3,513.3 738.9,513.6 739.5,514.1 740.1,513.2 740.7,513.3 741.3,514.2 741.9,514.0 742.5,513.8 743.1,514.3 743.7,513.2 744.3,514.3 744.9,513.3 745.5,514.3 746.1,513.9 746.7,513.9 747.3,513.7 747.9,514.0 748.5,513.1 749.1,513.9 749.7,512.7 750.3,513.7 750.9,514.3 751.5,514.2 752.1,512.9 752.7,514.1 753.3,513.6 753.9,513.3 754.5,513.2 755.1,513.3 755.7,513.4 756.3,514.3 756.9,513.9 757.5,512.9 758.1,514.0 758.7,513.7 759.3,514.4 759.9,513.2 760.5,514.1 761.1,513.7 761.7,513.2 762.3,513.0 762.9,514.5 763.5,512.9 764.1,513.4 764.7,513.8 765.3,513.5 765.9,514.1 766.5,513.5 767.1,514.7 767.6,514.5 768.2,514.8 768.8,515.5 769.4,514.2 770.0,514.9 770.6,514.5 771.1,514.9 771.7,515.5 772.3,516.1 772.9,515.2 773.5,516.5 774.0,516.5 774.6,516.2 775.2,517.1 775.8,516.4 776.4,517.5 777.0,517.6 777.6,516.8 778.2,517.9 778.7,517.7 779.3,517.4 779.9,517.7 780.5,518.2 781.1,518.6 781.7,518.6 782.3,518.8 782.9,518.0 783.5,517.4 784.0,517.7 784.6,518.3 785.2,517.8 785.8,518.7 786.4,518.0 787.0,518.4 787.6,518.4 788.2,519.5 788.8,518.8 789.4,518.1 790.0,519.3 790.6,519.7 791.2,519.3 791.8,518.0 792.4,519.5 793.0,518.4 793.6,519.5 794.2,519.5 794.8,519.3 795.4,518.2 796.0,518.7 796.6,518.3 797.2,519.5 797.8,518.2 798.4,518.9 799.0,519.4 799.6,519.6 800.2,518.9 800.8,518.2 801.4,519.7 802.0,518.6 802.6,518.9 803.2,518.0 803.8,518.5 804.4,519.6 805.0,519.2 805.6,519.1 806.2,518.8 806.8,518.0 807.4,518.1 808.0,519.3 808.6,517.7 809.2,518.7 809.8,518.1 810.4,518.6 811.0,517.5 811.6,517.3 812.1,518.1 812.7,517.4 813.3,518.3 813.9,518.5 814.5,516.8 815.0,516.8 815.6,516.5 816.2,516.7 816.8,516.2 817.3,516.7 817.9,516.1 818.5,516.1 819.0,516.5 819.6,516.3 820.2,514.9 820.7,514.8 821.3,515.2 821.9,514.8 822.4,514.4"/><polyline stroke="#ff0000" stroke-width="3.1" points="822.4,514.4 823.0,514.5 823.5,514.3 824.1,513.9 824.6,513.5 825.2,513.5 825.7,512.9 826.2,512.6 826.7,512.6 827.3,512.2 827.8,512.2 828.3,511.5 828.8,511.1 829.3,510.9 829.8,510.8 830.3,510.4 830.8,509.7 831.3,509.4 831.8,509.5 832.3,508.9 832.7,508.5 833.2,508.0 833.8,507.8 834.3,507.4 834.8,507.6 835.4,507.4 836.0,507.0 836.6,506.9 837.1,506.4 837.7,506.4 838.3,506.6 838.9,506.7 839.5,506.7 840.1,506.6 840.7,507.1 841.3,506.9 841.9,507.3 842.5,507.5 843.0,507.2 843.6,507.6 844.2,507.8 844.8,508.2 845.4,508.1 846.0,508.1 846.6,508.3 847.2,508.2 847.8,508.0 848.4,508.0 849.0,508.2 849.6,508.2 850.2,508.1 850.8,508.0 851.4,507.8 852.0,508.1 852.5,507.8 853.1,507.9 853.7,507.9 854.3,507.7 854.8,507.3 855.4,506.8 856.0,507.0 856.6,506.9 857.1,506.4 857.7,506.5 858.3,506.1 858.9,506.1 859.4,505.9 860.0,505.5 860.6,505.4 861.2,505.1 861.7,504.9 862.3,504.8 862.9,504.8 863.5,504.5 864.0,504.5 864.6,504.2 865.2,504.1 865.7,503.8 866.2,503.4 866.7,502.9 867.2,502.7 867.7,502.4 868.1,501.8 868.6,501.4 869.1,501.4 869.5,501.0 870.0,500.4 870.5,499.9 871.1,499.6 871.6,499.4 872.1,499.3 872.6,498.4 873.1,498.5 873.7,498.3 874.2,498.2 874.8,497.9 875.3,498.0 875.9,498.0 876.5,497.8 877.2,498.1 877.8,498.6 878.4,498.2 878.9,498.3 879.4,498.5 879.9,498.4 880.4,497.7 880.8,497.3 881.3,497.1 881.8,496.6 882.3,495.8 882.8,495.8 883.3,495.1 883.8,495.3 884.3,494.8"/>
<polyline stroke="#006400" stroke-width="3.5" points="81.0,544.9 81.6,545.1 82.2,546.1 82.8,545.7 83.4,544.9 84.0,545.5 84.6,545.6 85.2,545.0 85.8,546.0 86.4,544.9 87.0,545.4 87.6,545.6 88.2,545.5 88.8,545.8 89.4,546.0 90.0,546.4 90.6,545.2 91.2,545.9 91.8,545.9 92.4,545.2 93.0,544.6 93.6,546.3 94.2,545.1 94.8,545.1 95.4,546.0 96.0,545.4 96.6,545.2 97.2,545.7 97.8,544.2 98.4,545.4 99.0,544.7 99.6,544.1 100.2,545.1 100.8,545.5 101.3,544.1 101.9,544.8 102.5,544.1 103.1,544.8 103.7,544.7 104.3,543.7 104.9,544.8 105.5,544.4 106.1,544.3 106.7,544.5 107.3,543.7 107.9,544.3 108.5,544.4 109.1,543.0 109.7,544.3 110.3,543.4 110.9,543.5 111.5,542.8 112.1,543.8 112.7,543.0 113.3,544.0 113.9,542.9 114.5,543.3 115.1,543.0 115.7,543.3 116.3,542.5 116.9,542.4 117.5,543.4 118.1,543.4 118.7,543.0 119.3,543.6 119.9,542.3 120.5,543.4 121.1,542.1 121.7,543.5 122.3,542.8 122.9,542.7 123.5,543.4 124.1,543.0 124.7,542.9 125.3,541.6 125.8,542.1 126.4,541.5 127.0,541.7 127.6,541.7 128.2,542.8 128.8,541.4 129.4,541.7 130.0,542.0 130.6,542.6 131.2,542.7 131.8,542.2 132.4,541.3 133.0,541.8 133.6,542.1 134.2,540.9 134.8,541.9 135.4,541.3 136.0,541.7 136.6,541.8 137.2,541.7 137.8,541.4 138.4,541.4 139.0,540.7 139.6,541.2 140.2,540.5 140.8,541.1 141.4,541.2 142.0,541.5 142.6,540.8 143.2,540.1 143.8,541.0 144.4,540.3 145.0,541.2 145.6,540.6 146.2,540.5 146.8,541.4 147.4,540.4 148.0,540.3 148.6,540.2 149.2,540.4 149.8,539.7 150.4,540.5 151.0,541.1 151.6,540.4 152.2,540.7 152.8,541.0 153.4,540.7 154.0,540.5 154.6,540.6 155.2,540.5 155.8,539.5 156.3,539.8 156.9,539.5 157.5,539.3 158.1,539.8 158.7,539.3 159.3,539.8 159.9,539.7 160.5,538.8 161.1,539.3 161.7,539.2 162.3,539.7 162.9,538.5 163.5,538.6 164.1,539.2 164.7,538.9 165.3,539.3 165.9,538.7 166.5,538.4 167.1,539.6 167.7,538.3 168.3,538.1 168.9,538.3 169.5,538.4 170.1,538.1 170.7,538.6 171.3,539.3 171.9,537.8 172.5,538.2 173.1,538.6 173.7,539.0 174.3,539.1 174.9,537.5 175.5,538.2 176.1,538.7 176.7,537.2 177.3,538.1 177.9,537.3 178.5,538.3 179.1,538.6 179.7,537.8 180.3,536.8 180.8,536.9 181.4,537.4 182.0,538.2 182.6,537.0 183.2,537.7 183.8,537.2 184.4,536.9 185.0,537.6 185.6,536.9 186.2,536.9 186.8,537.6 187.4,537.0 188.0,537.5 188.6,537.0 189.2,536.3 189.8,536.7 190.4,537.4 191.0,536.8 191.6,537.5 192.2,535.7 192.8,536.2 193.4,536.9 194.0,536.7 194.6,536.4 195.2,536.6 195.8,536.9 196.4,536.5 197.0,536.2 197.6,536.1 198.2,536.3 198.8,535.6 199.4,536.2 200.0,536.0 200.6,536.3 201.2,535.7 201.8,534.8 202.4,535.7 203.0,536.2 203.5,535.8 204.1,535.7 204.7,535.2 205.3,535.1 205.9,535.7 206.5,534.5 207.1,535.9 207.7,535.9 208.3,536.0 208.9,534.4 209.5,534.3 210.1,535.7 210.7,534.7 211.3,534.5 211.9,534.6 212.5,535.0 213.1,534.1 213.7,534.6 214.3,534.8 214.9,534.9 215.5,533.5 216.1,534.9 216.7,534.2 217.3,534.1 217.9,534.2 218.5,533.7 219.1,534.7 219.7,533.4 220.3,533.9 220.9,533.1 221.5,533.8 222.1,534.3 222.6,534.1 223.2,532.7 223.8,533.5 224.4,533.8 225.0,532.5 225.6,532.7 226.2,533.1 226.7,533.0 227.3,532.3 227.9,532.5 228.5,532.4 229.0,531.6 229.6,532.0 230.2,531.7 230.8,531.7 231.3,531.2 231.9,530.7 232.5,530.7 233.1,531.4 233.6,529.9 234.2,529.7 234.8,529.3 235.4,530.6 235.9,530.7 236.5,529.1 237.1,529.0 237.7,528.7 238.2,529.3 238.8,528.9 239.4,529.3 240.0,528.1 240.5,529.1 241.1,528.3 241.7,528.7 242.3,528.6 242.9,528.7 243.5,527.8 244.1,527.9 244.7,527.7 245.2,526.9 245.8,527.3 246.4,528.0 247.0,527.9 247.6,526.2 248.2,527.3 248.8,526.6 249.4,526.2 250.0,526.1 250.6,527.2 251.2,527.5 251.8,526.6 252.4,526.3 253.0,526.5 253.6,527.0 254.2,526.8 254.8,525.5 255.4,525.7 256.0,526.9 256.6,526.1 257.2,526.4 257.8,526.5 258.4,526.2 259.0,526.3 259.6,526.0 260.1,525.3 260.7,525.2 261.3,526.6 261.9,524.8 262.5,526.0 263.1,526.2 263.7,525.0 264.3,524.6 264.9,525.2 265.5,525.1 266.1,525.3 266.7,525.2 267.3,526.0 267.9,524.5 268.5,526.0 269.1,524.3 269.7,525.9 270.3,524.8 270.9,525.4 271.5,524.1 272.1,524.9 272.7,525.2 273.3,525.1 273.9,525.4 274.5,524.2 275.1,524.6 275.7,525.0 276.3,523.9 276.9,525.3 277.5,524.5 278.1,524.2 278.7,524.1 279.3,524.9 279.9,523.8 280.5,524.1 281.1,524.2 281.7,524.1 282.3,524.9 282.9,524.7 283.5,525.2 284.1,524.8 284.7,524.1 285.3,524.1 285.9,523.8 286.5,524.0 287.1,524.6 287.7,524.8 288.3,524.0 288.9,524.1 289.5,524.9 290.1,525.2 290.7,523.7 291.3,523.6 291.9,524.9 292.5,524.5 293.1,524.4 293.7,524.8 294.3,525.0 294.9,523.8 295.5,525.5 296.1,525.5 296.7,524.6 297.3,524.7 297.9,524.4 298.5,525.0 299.1,524.4 299.7,525.0 300.3,525.7 300.9,525.1 301.5,525.7 302.1,524.6 302.7,525.9 303.3,524.6 303.9,524.8 304.5,525.8 305.1,525.1 305.7,524.8 306.3,524.8 306.9,526.1 307.5,524.8 308.1,524.9 308.7,526.6 309.2,526.4 309.8,525.7 310.4,525.4 311.0,526.7 311.6,526.6 312.2,526.5 312.8,526.3 313.4,526.3 314.0,527.2 314.6,526.5 315.2,525.7 315.8,525.8 316.4,526.8 317.0,527.1 317.6,527.0 318.2,527.3 318.8,526.5 319.4,526.7 320.0,526.6 320.6,526.8 321.2,526.7 321.8,527.8 322.4,526.6 323.0,526.8 323.6,527.8 324.2,527.3 324.8,527.2 325.4,528.4 326.0,528.4 326.6,527.2 327.1,527.2 327.7,527.9 328.3,528.1 328.9,527.7 329.5,528.2 330.1,528.5 330.7,528.8 331.3,527.8 331.9,528.6 332.5,527.6 333.1,527.7 333.7,527.7 334.3,527.9 334.9,529.2 335.5,528.5 336.1,528.7 336.7,528.7 337.3,528.3 337.9,528.1 338.5,528.3 339.1,529.6 339.7,528.7 340.3,528.9 340.9,528.6 341.5,529.5 342.1,529.5 342.7,528.9 343.3,529.2 343.9,529.0 344.5,529.3 345.1,529.4 345.7,529.4 346.3,530.0 346.9,530.1 347.5,528.5 348.1,529.1 348.7,528.5 349.3,529.2 349.9,530.0 350.5,529.8 351.1,529.6 351.7,528.7 352.3,530.0 352.9,529.7 353.5,529.2 354.1,530.0 354.7,528.7 355.3,529.0 355.9,530.1 356.5,528.8 357.1,528.9 357.7,529.6 358.3,530.0 358.9,529.8 359.5,528.8 360.1,529.2 360.7,530.0 361.3,529.3 361.9,529.0 362.5,528.7 363.1,529.2 363.7,530.4 364.3,528.8 364.9,529.7 365.5,530.3 366.1,530.0 366.7,529.2 367.3,529.9 367.9,528.9 368.5,529.6 369.1,529.2 369.7,530.3 370.3,530.3 370.9,530.1 371.5,529.4 372.1,530.1 372.7,530.5 373.3,529.4 373.9,529.6 374.5,529.0 375.1,528.9 375.7,530.0 376.3,528.8 376.9,529.8 377.5,528.9 378.1,529.9 378.7,530.1 379.3,530.4 379.9,529.4 380.5,529.4 381.1,529.4 381.7,530.0 382.3,530.1 382.9,528.9 383.5,529.3 384.1,528.8 384.7,529.1 385.3,530.0 385.9,530.4 386.5,530.5 387.1,528.8 387.7,529.4 388.3,530.3 388.9,529.6 389.5,529.3 390.1,530.1 390.7,530.3 391.3,529.0 391.9,529.6 392.5,529.0 393.1,529.0 393.7,529.7 394.3,529.2 394.9,530.1 395.5,529.4 396.1,529.0 396.7,529.8 397.3,529.2 397.9,528.8 398.5,530.5 399.1,529.0 399.7,528.9 400.3,529.6 400.9,528.7 401.5,530.1 402.1,528.8 402.7,528.8 403.3,530.5 403.9,529.6 404.5,530.4 405.1,530.3 405.7,530.1 406.3,528.8 406.9,529.9 407.5,528.9 408.1,528.8 408.7,530.3 409.3,529.3 409.9,530.1 410.5,529.8 411.1,530.2 411.7,530.0 412.3,530.6 412.9,529.7 413.5,530.4 414.1,530.3 414.7,529.9 415.3,529.8 415.9,529.7 416.5,530.0 417.1,529.2 417.7,529.7 418.3,530.1 418.9,529.5 419.5,529.3 420.1,529.1 420.7,530.3 421.3,530.5 421.9,530.4 422.5,530.2 423.1,530.0 423.7,529.0 424.3,530.5 424.9,529.7 425.5,530.1 426.1,529.1 426.7,530.2 427.3,529.1 427.9,530.5 428.5,530.1 429.1,529.7 429.7,530.0 430.3,529.2 430.9,529.6 431.5,528.9 432.1,529.2 432.7,529.2 433.3,529.0 433.9,529.4 434.5,528.8 435.1,528.7 435.7,529.2 436.3,530.4 436.9,529.9 437.5,529.3 438.1,528.9 438.7,528.8 439.3,529.3 439.9,529.7 440.5,530.0 441.1,529.3 441.7,530.0 442.3,529.9 442.9,529.9 443.5,529.0 444.1,529.2 444.7,528.6 445.3,529.4 445.9,528.4 446.5,529.1 447.1,528.5 447.7,529.0 448.3,528.5 448.9,528.1 449.5,528.9 450.1,528.8 450.7,529.0 451.3,528.2 451.9,528.9 452.5,528.5 453.1,528.0 453.7,528.6 454.3,529.0 454.9,528.3 455.5,529.0 456.1,529.1 456.7,527.7 457.3,528.0 457.9,528.1 458.5,528.7 459.1,528.4 459.7,528.6 460.3,527.2 460.8,527.7 461.4,527.0 462.0,529.0 462.6,528.8 463.2,527.2 463.8,529.6 464.4,526.1 465.0,525.7 465.6,527.5 466.2,528.5 466.8,529.2 467.4,528.0 468.0,527.0 468.6,528.1 469.2,527.0 469.8,528.4 470.4,527.5 471.0,527.0 471.6,527.0 472.2,528.4 472.8,528.7 473.4,526.3 474.0,529.2 474.6,528.9 475.2,526.4 475.8,524.1 476.4,525.0 477.0,527.1 477.6,525.8 478.2,525.9 478.8,526.5 479.4,528.3 480.0,526.2 480.6,528.1 481.2,527.2 481.8,527.7 482.4,527.3 483.0,528.0 483.6,526.7 484.2,526.8 484.8,527.2 485.4,527.2 486.0,526.8 486.6,526.8 487.2,526.4 487.8,527.1 488.4,527.6 489.0,527.7 489.6,526.9 490.2,527.9 490.8,527.8 491.4,526.6 492.0,526.2 492.6,527.5 493.2,527.7 493.8,527.1 494.4,527.7 495.0,526.8 495.6,526.8 496.2,526.0 496.8,526.5 497.4,527.5 498.0,526.0 498.6,526.0 499.2,525.8 499.8,526.7 500.4,526.8 501.0,526.7 501.6,527.3 502.2,526.9 502.8,526.8 503.4,526.7 504.0,526.5 504.6,525.7 505.2,525.8 505.8,526.7 506.4,526.0 507.0,526.3 507.6,526.7 508.2,526.6 508.8,526.0 509.4,526.0 510.0,525.8 510.6,526.7 511.2,526.8 511.8,525.7 512.4,526.0 513.0,525.7 513.6,526.5 514.2,526.0 514.8,527.0 515.4,525.9 516.0,526.6 516.6,526.5 517.2,527.1 517.8,526.7 518.4,527.1 519.0,526.4 519.6,525.4 520.2,525.9 520.8,526.7 521.4,526.0 522.0,526.5 522.6,525.5 523.2,526.5 523.8,526.0 524.4,527.0 525.0,525.4 525.6,526.0 526.2,526.7 526.8,526.0 527.4,526.1 528.0,525.9 528.6,525.5 529.2,525.9 529.8,526.9 530.4,526.7 531.0,525.9 531.6,526.5 532.2,526.7 532.8,526.7 533.4,525.4 534.0,525.6 534.6,527.1 535.2,525.8 535.8,526.8 536.4,526.5 537.0,526.9 537.6,525.5 538.2,527.1 538.8,527.0 539.4,525.8 540.0,526.7 540.6,525.5 541.2,527.0 541.8,526.2 542.4,526.8 543.0,526.9 543.6,525.6 544.2,527.1 544.8,525.7 545.4,525.9 546.0,526.4 546.6,526.1 547.2,526.8 547.8,526.0 548.4,526.8 549.0,527.0 549.6,527.4 550.2,526.4 550.8,526.2 551.4,526.8 552.0,526.9 552.6,527.4 553.2,526.9 553.8,526.6 554.4,526.4 555.0,527.2 555.6,527.0 556.2,526.0 556.8,526.5 557.4,526.2 558.0,526.9 558.6,526.7 559.2,526.3 559.8,527.0 560.4,527.3 561.0,526.7 561.6,527.6 562.2,526.3 562.8,526.3 563.4,527.5 564.0,527.2 564.6,527.6 565.2,528.0 565.8,527.2 566.4,527.8 567.0,527.5 567.6,527.3 568.2,527.3 568.8,528.2 569.4,527.1 570.0,527.3 570.6,527.4 571.2,527.7 571.8,526.7 572.4,527.8 573.0,526.7 573.6,527.4 574.2,527.5 574.8,527.7 575.4,527.8 576.0,527.9 576.6,526.9 577.2,527.4 577.8,528.2 578.4,527.7 579.0,528.4 579.6,528.0 580.2,528.0 580.8,528.3 581.4,528.8 582.0,527.1 582.6,527.3 583.2,527.3 583.8,527.6 584.4,527.3 585.0,529.0 585.6,527.6 586.2,528.2 586.8,528.9 587.4,528.2 588.0,527.9 588.6,528.0 589.2,528.2 589.8,528.0 590.4,528.4 591.0,528.3 591.6,527.7 592.2,529.2 592.8,529.4 593.4,528.7 594.0,527.8 594.6,529.3 595.2,528.4 595.8,528.4 596.4,528.2 597.0,529.5 597.6,529.1 598.2,528.4 598.8,528.6 599.4,528.7 600.0,528.6 600.6,529.2 601.2,529.7 601.8,528.1 602.4,529.6 602.9,529.6 603.5,528.5 604.1,529.9 604.7,529.7 605.3,529.5 605.9,528.4 606.5,529.0 607.1,529.6 607.7,529.2 608.3,528.4 608.9,529.6 609.5,529.0 610.1,528.7 610.7,528.9 611.3,528.5 611.9,529.0 612.5,528.4 613.1,530.2 613.7,528.6 614.3,529.0 614.9,529.0 615.5,529.3 616.1,529.1 616.7,530.1 617.3,528.8 617.9,530.3 618.5,529.2 619.1,530.3 619.7,529.2 620.3,528.7 620.9,530.1 621.5,528.9 622.1,530.0 622.7,530.2 623.3,529.0 623.9,529.2 624.5,529.7 625.1,530.2 625.7,530.2 626.3,529.6 626.9,529.7 627.5,530.1 628.1,529.0 628.7,530.4 629.3,530.3 629.9,529.1 630.5,529.8 631.1,530.0 631.7,529.9 632.3,528.8 632.9,528.8 633.5,529.1 634.1,528.9 634.7,529.6 635.3,530.0 635.9,529.7 636.5,530.3 637.1,529.6 637.7,529.5 638.3,528.9 638.9,530.4 639.5,529.9 640.1,530.5 640.7,530.4 641.3,528.9 641.9,529.8 642.5,529.6 643.1,530.1 643.7,528.8 644.3,529.9 644.9,529.8 645.5,529.4 646.1,528.9 646.7,529.9 647.3,528.8 647.9,529.3 648.5,528.7 649.1,529.3 649.7,529.1 650.3,529.8 650.9,529.9 651.5,530.0 652.1,529.5 652.7,530.1 653.3,530.0 653.9,529.8 654.5,530.3 655.1,530.7 655.7,529.8 656.3,530.7 656.9,530.1 657.5,529.7 658.1,529.9 658.7,530.3 659.3,529.7 659.9,530.8 660.5,529.8 661.1,530.2 661.7,530.6 662.3,530.6 662.9,530.3 663.5,530.4 664.1,530.4 664.7,530.1 665.3,529.9 665.9,530.7 666.5,529.4 667.1,529.3 667.7,529.6 668.3,529.5 668.9,530.8 669.5,530.0 670.1,530.6 670.7,530.0 671.3,529.4 671.9,530.6 672.5,530.6 673.1,529.2 673.7,530.4 674.3,530.0 674.9,529.3 675.5,529.6 676.1,530.3 676.7,529.3 677.3,530.0 677.9,529.9 678.5,529.9 679.1,529.2 679.7,530.4 680.3,529.9 680.9,530.1 681.5,530.0 682.1,529.5 682.7,530.2 683.3,529.6 683.9,530.5 684.5,529.7 685.1,529.2 685.7,529.7 686.3,529.5 686.9,530.5 687.5,529.4 688.1,530.4 688.7,528.8 689.3,529.0 689.9,529.3 690.5,530.1 691.1,529.8 691.7,529.5 692.3,529.5 692.9,530.3 693.5,529.1 694.1,530.1 694.7,529.4 695.3,530.0 695.9,530.2 696.5,529.5 697.1,529.1 697.7,529.1 698.3,529.1 698.9,528.9 699.5,529.5 700.1,529.9 700.7,529.4 701.3,530.4 701.9,530.4 702.5,530.1 703.1,530.1 703.7,529.3 704.3,530.1 704.9,528.8 705.5,528.8 706.1,528.8 706.7,529.3 707.3,530.0 707.9,528.8 708.5,529.4 709.1,529.8 709.7,530.3 710.3,529.8 710.9,529.2 711.5,528.9 712.1,529.7 712.7,530.2 713.3,530.3 713.9,529.9 714.5,529.1 715.1,529.0 715.7,528.9 716.3,529.3 716.9,529.8 717.5,529.1 718.1,530.0 718.7,529.4 719.3,530.3 719.9,529.9 720.5,530.3 721.1,529.4 721.7,530.0 722.3,530.5 722.9,529.0 723.5,530.6 724.1,530.0 724.7,530.8 725.3,529.5 725.9,529.9 726.5,530.3 727.1,530.1 727.7,530.2 728.3,530.6 728.9,529.4 729.5,530.4 730.1,529.9 730.7,530.8 731.3,530.9 731.9,530.0 732.5,529.9 733.1,530.9 733.7,531.0 734.3,530.7 734.9,530.9 735.5,531.0 736.1,530.2 736.7,530.0 737.3,529.5 737.9,530.2 738.5,529.8 739.1,530.8 739.7,530.6 740.3,531.2 740.9,530.8 741.5,530.0 742.1,530.3 742.7,530.5 743.3,530.6 743.9,531.4 744.5,530.8 745.1,530.3 745.7,530.3 746.3,530.8 746.9,530.0 747.5,530.7 748.1,531.5 748.7,531.6 749.3,531.0 749.9,531.0 750.5,530.7 751.1,531.2 751.7,531.0 752.3,531.3 752.9,531.9 753.5,531.6 754.1,530.5 754.7,530.6 755.3,531.6 755.9,532.2 756.5,531.5 757.1,532.0 757.7,531.0 758.3,531.0 758.9,532.4 759.5,532.2 760.1,531.5 760.7,532.2 761.3,532.0 761.9,532.3 762.5,532.0 763.1,532.2 763.7,532.7 764.3,531.9 764.9,532.5 765.5,533.0 766.1,531.4 766.7,531.8 767.3,532.0 767.9,532.5 768.5,532.3 769.1,533.2 769.7,531.8 770.3,532.0 770.9,531.6 771.4,531.8 772.0,532.5 772.6,531.5 773.2,533.0 773.8,532.7 774.4,531.4 775.0,532.6 775.6,531.3 776.2,532.0 776.8,531.4 777.4,531.2 778.0,531.8 778.6,532.4 779.2,530.9 779.8,531.1 780.4,531.6 781.0,532.4 781.6,531.3 782.2,532.1 782.8,531.5 783.4,531.3 784.0,531.8 784.6,530.8 785.2,531.4 785.8,530.4 786.4,531.3 787.0,532.1 787.6,530.4 788.2,530.4 788.8,531.2 789.4,531.9 790.0,531.2 790.6,531.9 791.2,530.7 791.8,531.9 792.4,530.4 793.0,531.4 793.6,530.6 794.2,531.5 794.8,530.0 795.4,530.5 796.0,531.6 796.6,531.3 797.2,530.8 797.8,530.6 798.4,531.6 799.0,530.3 799.6,530.2 800.2,530.0 800.8,531.1 801.4,531.6 802.0,530.2 802.6,531.3 803.2,531.3 803.8,530.3 804.4,530.9 805.0,531.0 805.6,530.1 806.2,531.7 806.8,530.3 807.4,530.3 808.0,531.3 808.6,531.0 809.2,531.5 809.8,531.3 810.4,530.3 811.0,530.9 811.6,531.9 812.2,530.6 812.8,530.4 813.4,531.7 814.0,530.2 814.6,530.8 815.2,531.8 815.8,531.6 816.4,530.3 817.0,530.2 817.6,530.9 818.2,531.2 818.8,531.4 819.4,530.3 820.0,530.7 820.6,530.7 821.2,530.3 821.8,530.9 822.4,530.5"/><polyline stroke="#006400" stroke-width="3.3" points="822.4,530.5 823.0,530.3 823.6,530.4 824.1,530.0 824.7,530.1 825.3,530.1 825.9,529.8 826.5,529.5 827.1,529.4 827.7,529.7 828.3,529.6 828.9,529.5 829.5,529.0 830.1,529.1 830.7,529.3 831.3,529.0 831.8,528.9 832.4,529.0 833.0,528.9 833.6,528.4 834.2,528.6 834.8,528.5 835.4,528.4 836.0,528.3 836.6,528.1 837.1,527.6 837.7,527.6 838.3,527.3 838.9,527.4 839.5,527.2 840.0,527.2 840.6,526.6 841.1,526.3 841.7,526.0 842.2,525.8 842.8,525.9 843.3,525.5 843.9,525.1 844.5,525.1 845.0,525.1 845.6,524.9 846.2,524.6 846.8,525.0 847.4,524.9 848.0,524.6 848.6,524.8 849.2,524.6 849.8,524.8 850.4,525.1 851.0,525.1 851.6,525.1 852.2,525.5 852.8,525.4 853.3,525.8 853.9,525.7 854.5,526.0 855.1,526.0 855.7,526.1 856.3,526.3 856.9,526.4 857.5,526.6 858.1,526.2 858.7,526.7 859.3,526.6 859.9,526.3 860.5,526.2 861.1,526.4 861.7,526.5 862.3,526.6 862.9,526.7 863.5,526.7 864.1,526.7 864.7,526.7 865.3,526.7 865.9,526.8 866.5,526.6 867.1,526.3 867.7,526.5 868.3,526.5 868.9,526.6 869.5,526.4 870.1,526.7 870.7,526.4 871.3,526.5 871.9,526.3 872.5,526.7 873.1,526.7 873.7,526.8 874.3,526.5 874.9,526.6 875.5,527.0 876.1,527.1 876.7,526.8 877.3,527.1 877.9,526.9 878.4,527.5 879.0,527.6 879.6,527.8 880.2,527.9 880.8,527.8 881.4,527.9 881.9,528.3 882.5,528.3 883.1,528.8 883.6,528.8 884.2,529.0"/>
<path stroke="#006400" stroke-width="2" d="M884.6 523.4V530"/>
</g>
<g fill="none" stroke-width="2">
<path stroke="#0080ff" d="M886.5 173.5H935.5"/>
<path stroke="#ff0000" d="M886.5 197.5H935.5"/>
<path stroke="#006400" d="M886.5 220.5H935.5"/>
</g>
<path d="M80.5 153.5H972.5V607.5H80.5ZM192.5 607.5v-9M192.5 153.5v9M303.5 607.5v-9M303.5 153.5v9M415.5 607.5v-9M415.5 153.5v9M526.5 607.5v-9M526.5 153.5v9M638.5 607.5v-9M638.5 153.5v9M749.5 607.5v-9M749.5 153.5v9M861.5 607.5v-9M861.5 153.5v9M99.5 607.5v-4.5M99.5 153.5v4.5M117.5 607.5v-4.5M117.5 153.5v4.5M136.5 607.5v-4.5M136.5 153.5v4.5M155.5 607.5v-4.5M155.5 153.5v4.5M173.5 607.5v-4.5M173.5 153.5v4.5M210.5 607.5v-4.5M210.5 153.5v4.5M229.5 607.5v-4.5M229.5 153.5v4.5M247.5 607.5v-4.5M247.5 153.5v4.5M266.5 607.5v-4.5M266.5 153.5v4.5M285.5 607.5v-4.5M285.5 153.5v4.5M322.5 607.5v-4.5M322.5 153.5v4.5M340.5 607.5v-4.5M340.5 153.5v4.5M359.5 607.5v-4.5M359.5 153.5v4.5M377.5 607.5v-4.5M377.5 153.5v4.5M396.5 607.5v-4.5M396.5 153.5v4.5M433.5 607.5v-4.5M433.5 153.5v4.5M452.5 607.5v-4.5M452.5 153.5v4.5M470.5 607.5v-4.5M470.5 153.5v4.5M489.5 607.5v-4.5M489.5 153.5v4.5M508.5 607.5v-4.5M508.5 153.5v4.5M545.5 607.5v-4.5M545.5 153.5v4.5M563.5 607.5v-4.5M563.5 153.5v4.5M582.5 607.5v-4.5M582.5 153.5v4.5M600.5 607.5v-4.5M600.5 153.5v4.5M619.5 607.5v-4.5M619.5 153.5v4.5M656.5 607.5v-4.5M656.5 153.5v4.5M675.5 607.5v-4.5M675.5 153.5v4.5M693.5 607.5v-4.5M693.5 153.5v4.5M712.5 607.5v-4.5M712.5 153.5v4.5M730.5 607.5v-4.5M730.5 153.5v4.5M768.5 607.5v-4.5M768.5 153.5v4.5M786.5 607.5v-4.5M786.5 153.5v4.5M805.5 607.5v-4.5M805.5 153.5v4.5M823.5 607.5v-4.5M823.5 153.5v4.5M842.5 607.5v-4.5M842.5 153.5v4.5M879.5 607.5v-4.5M879.5 153.5v4.5M898.5 607.5v-4.5M898.5 153.5v4.5M916.5 607.5v-4.5M916.5 153.5v4.5M935.5 607.5v-4.5M935.5 153.5v4.5M953.5 607.5v-4.5M953.5 153.5v4.5M80.5 228.5h9M972.5 228.5h-9M80.5 304.5h9M972.5 304.5h-9M80.5 380.5h9M972.5 380.5h-9M80.5 456.5h9M972.5 456.5h-9M80.5 532.5h9M972.5 532.5h-9" fill="none" stroke="#000" stroke-width="1" stroke-linecap="butt" stroke-linejoin="miter"/>
<text y="40.4" font-size="18.67"><tspan x="447.94" textLength="64.05" lengthAdjust="spacingAndGlyphs">Bateria</tspan> <tspan x="517.74" textLength="10.71" lengthAdjust="spacingAndGlyphs">z</tspan> <tspan x="532.52" textLength="12.11" lengthAdjust="spacingAndGlyphs">4</tspan> <tspan x="548.70" textLength="55.83" lengthAdjust="spacingAndGlyphs">ogniw</tspan></text>
<text y="67.5" font-size="18.67"><tspan x="214.05" textLength="38.12" lengthAdjust="spacingAndGlyphs">Og1</tspan> <tspan x="257.77" textLength="132.78" lengthAdjust="spacingAndGlyphs">Samsung-30T,</tspan> <tspan x="397.72" textLength="39.53" lengthAdjust="spacingAndGlyphs">Og2</tspan> <tspan x="442.24" textLength="88.07" lengthAdjust="spacingAndGlyphs">EVE-40PL,</tspan> <tspan x="536.55" textLength="38.01" lengthAdjust="spacingAndGlyphs">Og3</tspan> <tspan x="579.74" textLength="88.07" lengthAdjust="spacingAndGlyphs">EVE-40PL,</tspan> <tspan x="674.03" textLength="39.07" lengthAdjust="spacingAndGlyphs">Og4</tspan> <tspan x="718.60" textLength="125.66" lengthAdjust="spacingAndGlyphs">Samsung-40T</tspan></text>
<text y="94.6" font-size="18.67"><tspan x="341.42" textLength="69.76" lengthAdjust="spacingAndGlyphs">Różnica</tspan> <tspan x="418.19" textLength="63.04" lengthAdjust="spacingAndGlyphs">między</tspan> <tspan x="488.62" textLength="100.30" lengthAdjust="spacingAndGlyphs">napięciami</tspan> <tspan x="594.48" textLength="20.50" lengthAdjust="spacingAndGlyphs">na</tspan> <tspan x="622.81" textLength="89.86" lengthAdjust="spacingAndGlyphs">ogniwach</tspan></text>
<text y="121.8" font-size="18.67"><tspan x="287.08" textLength="41.69" lengthAdjust="spacingAndGlyphs">Prąd</tspan> <tspan x="334.84" textLength="121.35" lengthAdjust="spacingAndGlyphs">rozładowania</tspan> <tspan x="464.24" textLength="50.80" lengthAdjust="spacingAndGlyphs">0.47A</tspan> <tspan x="520.28" textLength="6.93" lengthAdjust="spacingAndGlyphs">-</tspan> <tspan x="531.72" textLength="76.60" lengthAdjust="spacingAndGlyphs">balanser</tspan> <tspan x="616.64" textLength="149.08" lengthAdjust="spacingAndGlyphs">pojemnosciowy.</tspan></text>
<g font-size="16" text-anchor="end">
<text x="72.2" y="159.2">0.5</text>
<text x="72.2" y="234.2">0.4</text>
<text x="72.2" y="310.2">0.3</text>
<text x="72.2" y="386.2">0.2</text>
<text x="49.32" y="462.2" text-anchor="start" textLength="20.70" lengthAdjust="spacingAndGlyphs">0.1</text>
<text x="72.2" y="538.2">0</text>
<text x="44.34" y="613.2" text-anchor="start" textLength="25.67" lengthAdjust="spacingAndGlyphs">-0.1</text>
</g>
<g font-size="16" text-anchor="middle">
<text x="82.4" y="635.6" textLength="9.2" lengthAdjust="spacingAndGlyphs">0</text>
<text x="194.4" y="635.6" textLength="36.2" lengthAdjust="spacingAndGlyphs">3600</text>
<text x="305.4" y="635.6" textLength="36.2" lengthAdjust="spacingAndGlyphs">7200</text>
<text x="418.1" y="635.6" textLength="44.6" lengthAdjust="spacingAndGlyphs">10800</text>
<text x="529.1" y="635.6" textLength="44.6" lengthAdjust="spacingAndGlyphs">14400</text>
<text x="641.1" y="635.6" textLength="44.6" lengthAdjust="spacingAndGlyphs">18000</text>
<text x="751.4" y="635.6" textLength="44.6" lengthAdjust="spacingAndGlyphs">21600</text>
<text x="863.4" y="635.6" textLength="44.6" lengthAdjust="spacingAndGlyphs">25200</text>
<text x="974.4" y="635.6" textLength="44.6" lengthAdjust="spacingAndGlyphs">28800</text>
</g>
<g font-size="14" text-anchor="middle" style="fill:#e9967a">
<text x="136.5" y="639.6" textLength="28.6" lengthAdjust="spacingAndGlyphs">0.5h</text>
<text x="248.0" y="639.6" textLength="28.6" lengthAdjust="spacingAndGlyphs">1.5h</text>
<text x="359.5" y="639.6" textLength="28.6" lengthAdjust="spacingAndGlyphs">2.5h</text>
<text x="471.0" y="639.6" textLength="28.6" lengthAdjust="spacingAndGlyphs">3.5h</text>
<text x="582.5" y="639.6" textLength="28.6" lengthAdjust="spacingAndGlyphs">4.5h</text>
<text x="694.0" y="639.6" textLength="28.6" lengthAdjust="spacingAndGlyphs">5.5h</text>
<text x="805.5" y="639.6" textLength="28.6" lengthAdjust="spacingAndGlyphs">6.5h</text>
<text x="917.0" y="639.6" textLength="28.6" lengthAdjust="spacingAndGlyphs">7.5h</text>
</g>
<g font-size="14" text-anchor="middle" style="fill:#556b2f">
<text x="192.3" y="661.3" textLength="16" lengthAdjust="spacingAndGlyphs">1h</text>
<text x="303.3" y="661.3" textLength="16" lengthAdjust="spacingAndGlyphs">2h</text>
<text x="415.3" y="661.3" textLength="16" lengthAdjust="spacingAndGlyphs">3h</text>
<text x="526.3" y="661.3" textLength="16" lengthAdjust="spacingAndGlyphs">4h</text>
<text x="638.3" y="661.3" textLength="16" lengthAdjust="spacingAndGlyphs">5h</text>
<text x="749.3" y="661.3" textLength="16" lengthAdjust="spacingAndGlyphs">6h</text>
<text x="861.3" y="661.3" textLength="16" lengthAdjust="spacingAndGlyphs">7h</text>
<text x="972.3" y="661.3" textLength="16" lengthAdjust="spacingAndGlyphs">8h</text>
</g>
<text x="527" y="689.3" font-size="16" text-anchor="middle" textLength="57.5" lengthAdjust="spacingAndGlyphs">Czas [s]</text>
<text transform="translate(25.4 380) rotate(-90)" font-size="16" text-anchor="middle" textLength="79.5" lengthAdjust="spacingAndGlyphs">Delta U [V]</text>
<text x="382.8" y="205" font-size="12" text-anchor="middle" textLength="71.5" lengthAdjust="spacingAndGlyphs" style="fill:#0000ff">tayvoy.blog</text>
<g font-size="18.67">
<text y="180.0"><tspan x="801.7">U</tspan><tspan x="814.6" dy="4.2" font-size="14.2">2</tspan><tspan x="822.3" dy="-4.2">-</tspan><tspan x="828.4">U</tspan><tspan x="841.6" dy="4.2" font-size="14.2">1</tspan><tspan x="854.9" dy="-4.2" textLength="20.7" lengthAdjust="spacingAndGlyphs">[V]</tspan></text>
<text y="203.6"><tspan x="801.7">U</tspan><tspan x="814.6" dy="4.2" font-size="14.2">3</tspan><tspan x="822.3" dy="-4.2">-</tspan><tspan x="828.4">U</tspan><tspan x="841.6" dy="4.2" font-size="14.2">2</tspan><tspan x="854.9" dy="-4.2" textLength="20.7" lengthAdjust="spacingAndGlyphs">[V]</tspan></text>
<text y="227.2"><tspan x="801.7">U</tspan><tspan x="814.6" dy="4.2" font-size="14.2">4</tspan><tspan x="822.3" dy="-4.2">-</tspan><tspan x="828.4">U</tspan><tspan x="841.6" dy="4.2" font-size="14.2">3</tspan><tspan x="854.9" dy="-4.2" textLength="20.7" lengthAdjust="spacingAndGlyphs">[V]</tspan></text>
</g>
</svg></body></html>
